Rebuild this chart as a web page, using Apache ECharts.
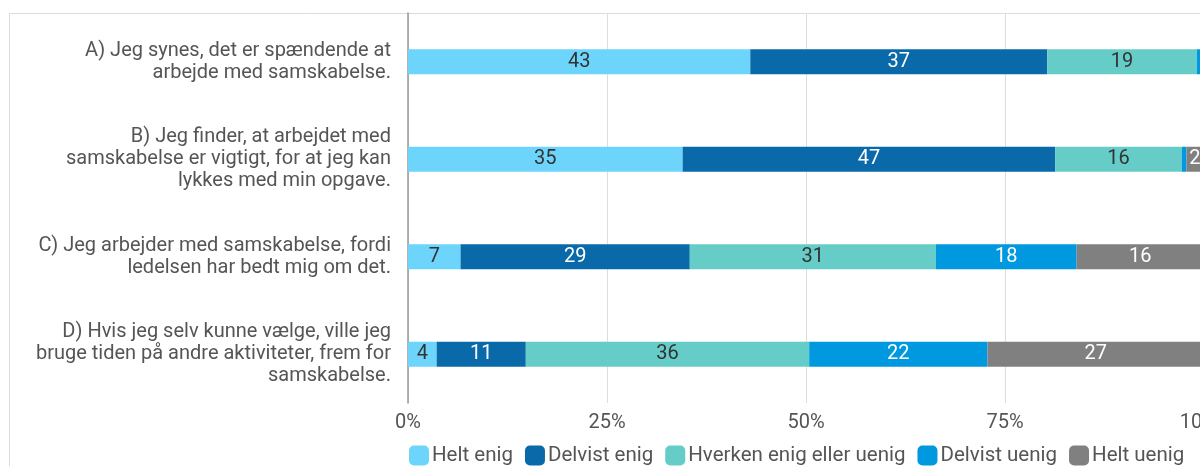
<!DOCTYPE html>
<html>
<head>
<meta charset="utf-8">
<script src="https://cdn.jsdelivr.net/npm/echarts@6/dist/echarts.min.js"></script>
<style>
  html, body { margin: 0; padding: 0; background: #fff; }
  #chart { width: 1200px; height: 466px; }
</style>
</head>
<body>
<div id="chart"></div>
<script>
// spørgsmål (kategorier)
var categories = [
    'A) Jeg synes, det er spændende at\narbejde med samskabelse.',
    'B) Jeg finder, at arbejdet med\nsamskabelse er vigtigt, for at jeg kan\nlykkes med min opgave.',
    'C) Jeg arbejder med samskabelse, fordi\nledelsen har bedt mig om det.',
    'D) Hvis jeg selv kunne vælge, ville jeg\nbruge tiden på andre aktiviteter, frem for\nsamskabelse.'
];
var seriesNames = ['Helt enig', 'Delvist enig', 'Hverken enig eller uenig', 'Delvist uenig', 'Helt uenig'];
// procenter pr. svarkategori (A, B, C, D)
var heltEnig = [43.0, 34.5, 6.6, 3.6];
var delvistEnig = [37.3, 46.8, 28.8, 11.2];
var hverken = [18.8, 15.9, 30.9, 35.6];
var delvistUenig = [0.9, 0.6, 17.7, 22.4];
var heltUenig = [0, 2.1, 16.0, 27.2];
var tickLabels = ['0%', '25%', '50%', '75%', '100%'];

var colors = ['#6dd5fb', '#0a6aa9', '#66ccc8', '#0099e0', '#808080'];
var labelColors = ['#333', '#fff', '#333', '#fff', '#fff'];
var allData = [heltEnig, delvistEnig, hverken, delvistUenig, heltUenig];

var chart = echarts.init(document.getElementById('chart'));

var series = seriesNames.map(function (name, i) {
    return {
        name: name,
        type: 'bar',
        stack: 'total',
        barWidth: 25,
        data: allData[i],
        itemStyle: { color: colors[i] },
        label: {
            show: true,
            position: 'inside',
            color: labelColors[i],
            fontSize: 20,
            fontFamily: 'Roboto',
            formatter: function (p) {
                return p.value < 1.5 ? '' : Math.round(p.value);
            }
        }
    };
});

var option = {
    animation: false,
    textStyle: { fontFamily: 'Roboto' },
    graphic: [{
        type: 'rect',
        shape: { x: 9.5, y: 13.5, width: 1300, height: 500 },
        style: { fill: null, stroke: '#dcdcdc', lineWidth: 1 },
        silent: true,
        z: -1
    }],
    grid: {
        left: 408, right: -4, top: 13, bottom: 63,
        containLabel: false,
        outerBoundsMode: 'none'
    },
    xAxis: {
        type: 'value',
        min: 0,
        max: 100,
        interval: 25,
        axisLine: { show: false },
        axisTick: { show: false },
        splitLine: { lineStyle: { color: '#dddddd' } },
        axisLabel: {
            fontSize: 20,
            color: '#555',
            margin: 10,
            hideOverlap: false,
            formatter: function (v) { return tickLabels[v / 25]; }
        }
    },
    yAxis: {
        type: 'category',
        inverse: true,
        data: categories,
        axisLine: { show: true, lineStyle: { color: '#999', width: 1.5 } },
        axisTick: { show: false },
        axisLabel: {
            fontSize: 20,
            color: '#555',
            lineHeight: 22,
            align: 'right',
            margin: 17
        }
    },
    legend: {
        data: seriesNames,
        left: 404,
        top: 440,
        icon: 'roundRect',
        itemWidth: 20,
        itemHeight: 20,
        itemGap: 12,
        textStyle: { fontSize: 20.5, color: '#555', padding: [0, 0, 0, -2] }
    },
    series: series
};

chart.setOption(option);
</script>
</body>
</html>
